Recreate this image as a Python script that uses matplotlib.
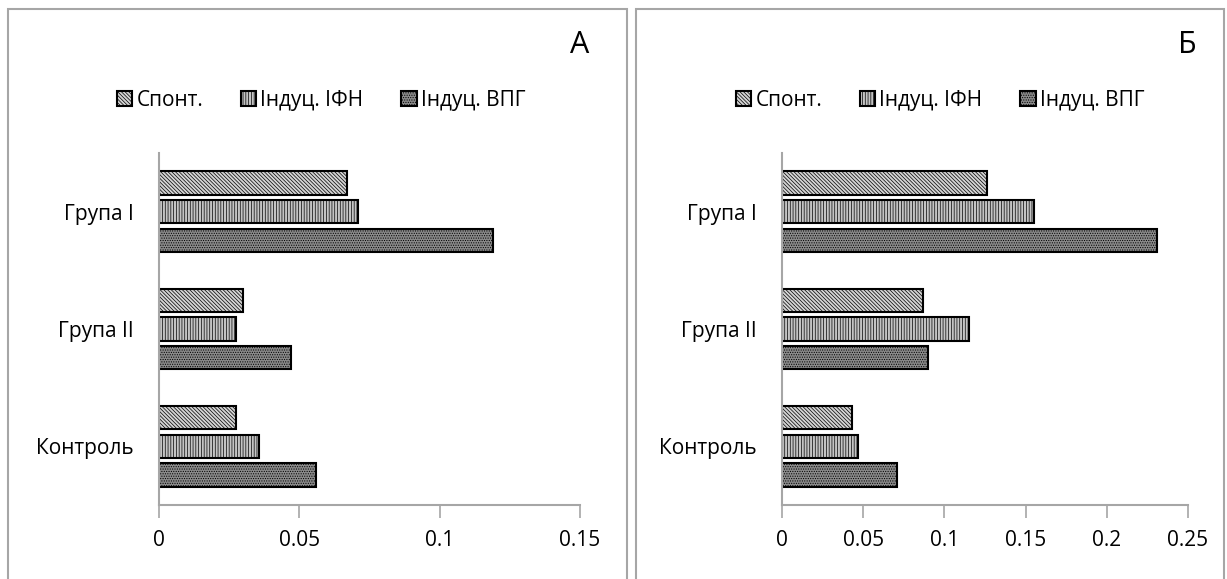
import numpy as np
import matplotlib
matplotlib.use("Agg")
import matplotlib.pyplot as plt
from matplotlib.patches import Rectangle

plt.rcParams['font.family'] = ['Open Sans', 'DejaVu Sans']
plt.rcParams['hatch.linewidth'] = 0.5

# ---------------------------------------------------------
# Data (categories bottom -> top, as Excel draws them)
# ---------------------------------------------------------
categories = ["Контроль", "Група II", "Група I"]
series_names = ["Спонт.", "Індуц. ІФН", "Індуц. ВПГ"]

a_spont = [0.0275, 0.030, 0.067]
a_ifn = [0.0356, 0.0275, 0.071]
a_vpg = [0.056, 0.047, 0.119]

b_spont = [0.043, 0.087, 0.126]
b_ifn = [0.047, 0.115, 0.155]
b_vpg = [0.071, 0.090, 0.231]

a_ticks = [0, 0.05, 0.1, 0.15]
b_ticks = [0, 0.05, 0.1, 0.15, 0.2, 0.25]

# styles per series: facecolor, hatch
styles = [("#d4d4d4", "\\" * 9), ("#c4c4c4", "|" * 6), ("#8a8a8a", "." * 7)]
offsets = [0.245, 0.0, -0.245]
bar_h = 0.2
axis_grey = "#a6a6a6"
fs = 15

fig = plt.figure(figsize=(12.27, 5.79), dpi=100)

# panel borders (bottom edge runs off the picture)
for x0, x1 in [(8, 627), (636, 1224)]:
    fig.patches.append(Rectangle((x0 / 1227, -0.05), (x1 - x0) / 1227, 1.05 - 9 / 579,
                                 transform=fig.transFigure, fill=False,
                                 edgecolor=axis_grey, linewidth=1.5))


def draw_panel(rect, values, ticks, label, legend_x):
    ax = fig.add_axes(rect)
    y = np.arange(len(categories))
    bars = []
    for vals, (fc, hatch), off, name in zip(values, styles, offsets, series_names):
        b = ax.barh(y + off, vals, height=bar_h, color=fc, hatch=hatch,
                    edgecolor="black", linewidth=1.5, label=name)
        bars.append(b)
    ax.set_ylim(-0.5, 2.5)
    ax.set_xlim(ticks[0], ticks[-1])
    ax.set_xticks(ticks)
    ax.set_xticklabels([f"{t:g}" for t in ticks], fontsize=fs)
    ax.set_yticks(y)
    ax.set_yticklabels(categories, fontsize=fs)
    for s in ["top", "right"]:
        ax.spines[s].set_visible(False)
    for s in ["left", "bottom"]:
        ax.spines[s].set_color(axis_grey)
        ax.spines[s].set_linewidth(1.5)
    ax.tick_params(axis="x", direction="out", length=9, width=1.2,
                   color=axis_grey, pad=9)
    ax.tick_params(axis="y", length=0, pad=18)
    fig.legend(handles=bars, loc="center", bbox_to_anchor=(legend_x, 0.827),
               ncol=3, frameon=False, fontsize=fs, handlelength=0.75,
               handleheight=0.75, handletextpad=0.2, columnspacing=1.8)
    fig.text(rect[0] + rect[2] - 0.008, 1 - 45 / 579, label, fontsize=22,
             ha="left", va="center")
    return ax


draw_panel([159 / 1227, 1 - 505 / 579, 421 / 1227, 352 / 579],
           [a_spont, a_ifn, a_vpg], a_ticks, "А", 321 / 1227)
draw_panel([782 / 1227, 1 - 505 / 579, 406 / 1227, 352 / 579],
           [b_spont, b_ifn, b_vpg], b_ticks, "Б", 940 / 1227)

fig.savefig("out.png", dpi=100)
